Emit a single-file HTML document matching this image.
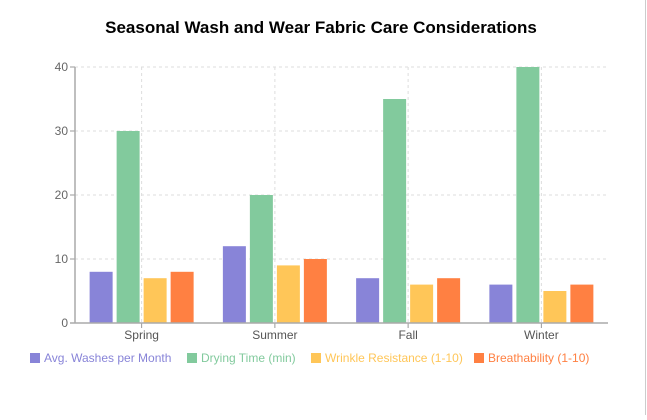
<!DOCTYPE html>
<html><head><meta charset="utf-8"><style>
body{margin:0;background:#fff;width:647px;height:415px;overflow:hidden;font-family:"Liberation Sans",sans-serif}
</style></head><body>
<svg width="647" height="415">
<line x1="645.5" y1="0" x2="645.5" y2="415" stroke="#ccc"/>
<text x="321" y="33" text-anchor="middle" font-size="17" font-weight="bold" fill="#000">Seasonal Wash and Wear Fabric Care Considerations</text>
<g id="grid"></g><g id="bars"></g><g id="axes"></g><g id="legend"></g>
</svg>
<script>
const categories=["Spring","Summer","Fall","Winter"];
const seriesNames=["Avg. Washes per Month","Drying Time (min)","Wrinkle Resistance (1-10)","Breathability (1-10)"];
const washes=[8,12,7,6];
const drying=[30,20,35,40];
const wrinkle=[7,9,6,5];
const breath=[8,10,7,6];
const yTicks=[0,10,20,30,40];
const series=[washes,drying,wrinkle,breath];
const colors=["#8884d8","#82ca9d","#ffc658","#ff8042"];
const NS="http://www.w3.org/2000/svg";
const x0=75,x1=608,y0=323,y1=67,yMax=40;
const band=(x1-x0)/categories.length;
const y=v=>y0-(v/yMax)*(y0-y1);
function mk(t,a,p){const e=document.createElementNS(NS,t);for(const k in a)e.setAttribute(k,a[k]);p.appendChild(e);return e;}
const g=document.getElementById('grid'),b=document.getElementById('bars'),ax=document.getElementById('axes'),lg=document.getElementById('legend');
yTicks.forEach(t=>{
  if(t>0){const l=mk('line',{x1:x0,x2:x1,y1:y(t),y2:y(t),stroke:'#ddd','stroke-dasharray':'3 3'},g);
  
  }
  const tk=mk('line',{x1:x0-5,x2:x0,y1:y(t),y2:y(t),stroke:'#999'},ax);
  
  
  const tx=mk('text',{x:x0-7,y:y(t)+4,'text-anchor':'end','font-size':12,fill:'#666'},ax);
  tx.textContent=t;
  
  
});
categories.forEach((c,i)=>{
  const cx=x0+band*(i+0.5);
  const vl=mk('line',{x1:cx,x2:cx,y1:y1,y2:y0,stroke:'#ddd','stroke-dasharray':'3 3'},g);
  
  
  const bw=23,gap=4,start=x0+band*i+(band-(4*bw+3*gap))/2;
  series.forEach((s,j)=>{
    const r=mk('rect',{x:start+j*(bw+gap),y:y(s[i]),width:bw,height:y0-y(s[i]),fill:colors[j]},b);
    
    
  });
  const tk=mk('line',{x1:cx,x2:cx,y1:y0,y2:y0+5,stroke:'#999'},ax);
  
  
  const tx=mk('text',{x:cx,y:y0+16,'text-anchor':'middle','font-size':12,fill:'#555'},ax);
  tx.textContent=c;
  
  
});
const ya=mk('line',{x1:x0,x2:x0,y1:y1,y2:y0,stroke:'#aaa','stroke-width':1.5},ax);


const xa=mk('line',{x1:x0-5,x2:x1,y1:y0,y2:y0,stroke:'#aaa','stroke-width':1.5},ax);


const lx=[30,187,311,474];
seriesNames.forEach((n,j)=>{
  const r=mk('rect',{x:lx[j],y:353,width:10,height:10,fill:colors[j]},lg);
  
  
  const t=mk('text',{x:lx[j]+14,y:362,'font-size':12,fill:colors[j]},lg);
  t.textContent=n;
  
  
});
</script>
</body></html>
